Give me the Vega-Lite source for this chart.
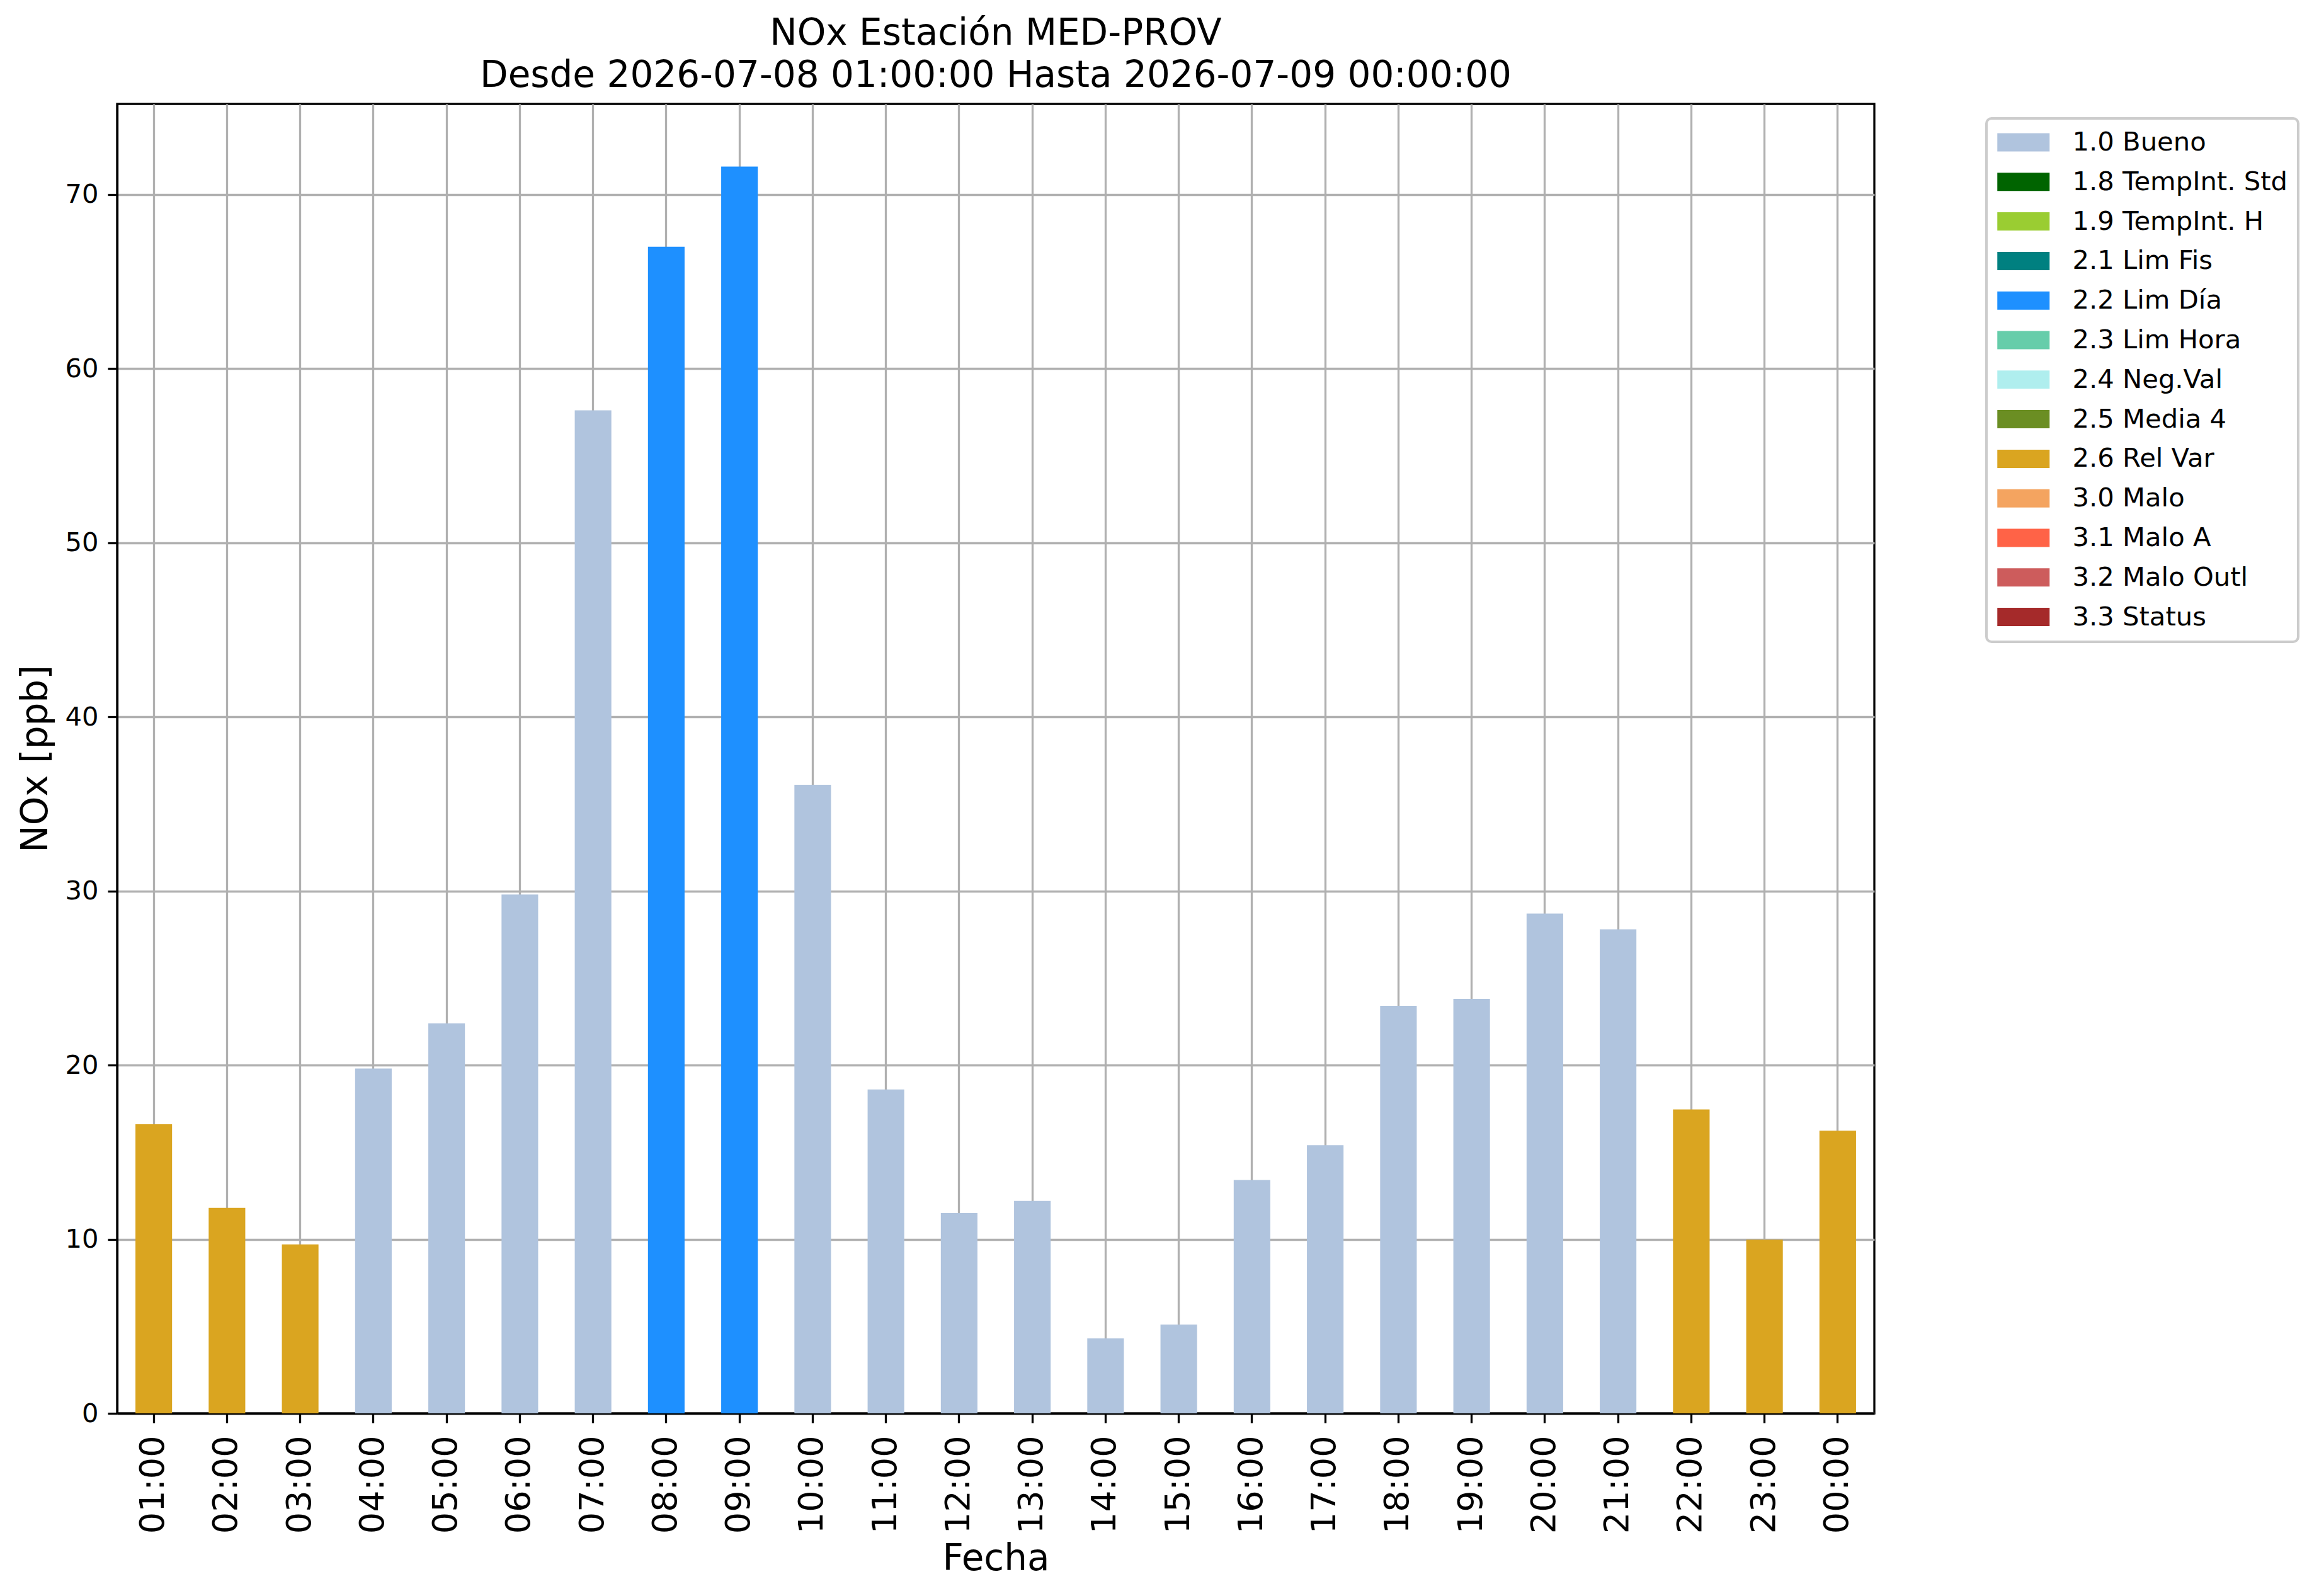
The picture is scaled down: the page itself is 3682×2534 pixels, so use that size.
{
  "$schema": "https://vega.github.io/schema/vega-lite/v6.json",
  "width": 2790,
  "height": 2079,
  "autosize": {"type": "none"},
  "padding": {"left": 186, "top": 165, "right": 706, "bottom": 290},
  "background": "white",
  "title": {
    "text": ["NOx Estación MED-PROV", "Desde 2026-07-08 01:00:00 Hasta 2026-07-09 00:00:00"],
    "font": "DejaVu Sans",
    "fontSize": 58,
    "fontWeight": "normal",
    "color": "black",
    "lineHeight": 67,
    "baseline": "bottom",
    "offset": -43,
    "anchor": "middle",
    "frame": "group"
  },
  "data": {
    "values": [
      {"hora": "01:00", "nox": 16.6, "estado": "2.6 Rel Var"},
      {"hora": "02:00", "nox": 11.8, "estado": "2.6 Rel Var"},
      {"hora": "03:00", "nox": 9.7, "estado": "2.6 Rel Var"},
      {"hora": "04:00", "nox": 19.8, "estado": "1.0 Bueno"},
      {"hora": "05:00", "nox": 22.4, "estado": "1.0 Bueno"},
      {"hora": "06:00", "nox": 29.8, "estado": "1.0 Bueno"},
      {"hora": "07:00", "nox": 57.6, "estado": "1.0 Bueno"},
      {"hora": "08:00", "nox": 67.0, "estado": "2.2 Lim Día"},
      {"hora": "09:00", "nox": 71.6, "estado": "2.2 Lim Día"},
      {"hora": "10:00", "nox": 36.1, "estado": "1.0 Bueno"},
      {"hora": "11:00", "nox": 18.6, "estado": "1.0 Bueno"},
      {"hora": "12:00", "nox": 11.5, "estado": "1.0 Bueno"},
      {"hora": "13:00", "nox": 12.2, "estado": "1.0 Bueno"},
      {"hora": "14:00", "nox": 4.3, "estado": "1.0 Bueno"},
      {"hora": "15:00", "nox": 5.1, "estado": "1.0 Bueno"},
      {"hora": "16:00", "nox": 13.4, "estado": "1.0 Bueno"},
      {"hora": "17:00", "nox": 15.4, "estado": "1.0 Bueno"},
      {"hora": "18:00", "nox": 23.4, "estado": "1.0 Bueno"},
      {"hora": "19:00", "nox": 23.8, "estado": "1.0 Bueno"},
      {"hora": "20:00", "nox": 28.7, "estado": "1.0 Bueno"},
      {"hora": "21:00", "nox": 27.8, "estado": "1.0 Bueno"},
      {"hora": "22:00", "nox": 17.45, "estado": "2.6 Rel Var"},
      {"hora": "23:00", "nox": 9.97, "estado": "2.6 Rel Var"},
      {"hora": "00:00", "nox": 16.23, "estado": "2.6 Rel Var"}
    ]
  },
  "mark": {"type": "bar", "strokeWidth": 0},
  "encoding": {
    "x": {
      "field": "hora",
      "type": "nominal",
      "sort": null,
      "scale": {"paddingInner": 0.5, "paddingOuter": 0.25},
      "axis": {
        "title": "Fecha",
        "titleY": 248,
        "titleBaseline": "alphabetic",
        "labelAngle": 270,
        "labelFontSize": 54,
        "labelPadding": 20,
        "bandPosition": 0.5
      }
    },
    "y": {
      "field": "nox",
      "type": "quantitative",
      "scale": {"domain": [0, 75.2], "nice": false},
      "axis": {
        "title": "NOx [ppb]",
        "titleX": -112,
        "titleY": 1039.5,
        "titleAngle": 270,
        "titleAlign": "center",
        "titleBaseline": "alphabetic",
        "values": [0, 10, 20, 30, 40, 50, 60, 70],
        "labelFontSize": 41.7,
        "labelPadding": 15
      }
    },
    "color": {
      "field": "estado",
      "type": "nominal",
      "scale": {
        "domain": ["1.0 Bueno", "1.8 TempInt. Std", "1.9 TempInt. H", "2.1 Lim Fis", "2.2 Lim Día", "2.3 Lim Hora", "2.4 Neg.Val", "2.5 Media 4", "2.6 Rel Var", "3.0 Malo", "3.1 Malo A", "3.2 Malo Outl", "3.3 Status"],
        "range": ["#b0c4de", "#006400", "#9acd32", "#008080", "#1e90ff", "#66cdaa", "#afeeee", "#6b8e23", "#daa520", "#f4a460", "#ff6347", "#cd5c5c", "#a52a2a"]
      },
      "legend": {
        "orient": "none",
        "legendX": 2968,
        "legendY": 23,
        "title": null
      }
    }
  },
  "config": {
    "font": "DejaVu Sans",
    "view": {"stroke": "black", "strokeWidth": 3.3},
    "axis": {
      "labelFont": "DejaVu Sans",
      "labelColor": "black",
      "titleFont": "DejaVu Sans",
      "titleFontSize": 58,
      "titleFontWeight": "normal",
      "titleColor": "black",
      "tickSize": 15,
      "tickWidth": 3.3,
      "tickColor": "black",
      "domainColor": "black",
      "domainWidth": 3.3,
      "grid": true,
      "gridColor": "#b0b0b0",
      "gridWidth": 3.3,
      "labelOverlap": false,
      "zindex": 1
    },
    "legend": {
      "symbolType": "M-1,-0.7H3V0.7H-1Z",
      "symbolSize": 1722,
      "symbolStrokeWidth": 0,
      "symbolOpacity": 1,
      "labelFont": "DejaVu Sans",
      "labelFontSize": 41.7,
      "labelColor": "black",
      "labelOffset": 77.5,
      "labelLimit": 1000,
      "rowPadding": 19.8,
      "padding": 17,
      "strokeColor": "#cccccc",
      "strokeWidth": 4,
      "fillColor": "white",
      "cornerRadius": 8
    }
  }
}
